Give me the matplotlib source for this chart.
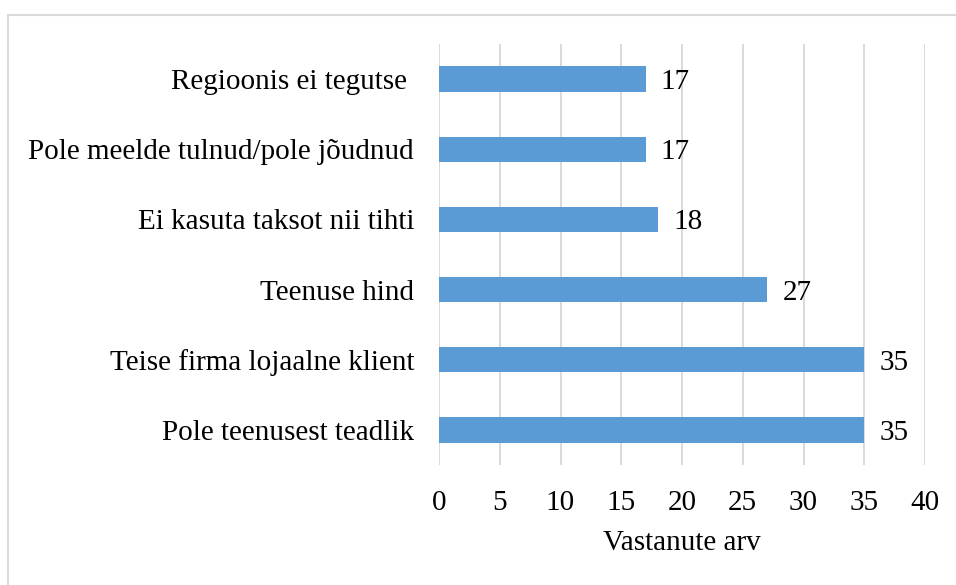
import matplotlib
matplotlib.use("Agg")
import matplotlib.pyplot as plt
from matplotlib.patches import Rectangle

categories = [
    "Regioonis ei tegutse ",
    "Pole meelde tulnud/pole jõudnud",
    "Ei kasuta taksot nii tihti",
    "Teenuse hind",
    "Teise firma lojaalne klient",
    "Pole teenusest teadlik",
]
values = [17, 17, 18, 27, 35, 35]
x_ticks = [0, 5, 10, 15, 20, 25, 30, 35, 40]
x_label = "Vastanute arv"

plt.rcParams['font.family'] = ['Liberation Serif', 'DejaVu Serif']
FS = 21

fig = plt.figure(figsize=(9.56, 5.85), dpi=100)
fig.patches.append(Rectangle((8/956, -0.05), 1.1, 1 - 15/585 + 0.05,
                             transform=fig.transFigure, fill=False,
                             edgecolor='#D9D9D9', linewidth=1.5, zorder=0))

ax = fig.add_axes([439/956, 1 - 465/585, 486/956, 421/585])
ypos = list(range(len(categories)))
ax.barh(ypos, values, height=0.36, color='#5B9BD5', zorder=3)
ax.set_ylim(len(categories) - 0.5, -0.5)
ax.set_xlim(0, 40)
ax.set_xticks(x_ticks)
ax.set_xticklabels([str(t) for t in x_ticks])
ax.set_yticks(ypos)
ax.set_yticklabels(categories)
ax.tick_params(axis='both', length=0, labelsize=FS, colors='black')
ax.tick_params(axis='x', pad=18)
ax.tick_params(axis='y', pad=18)
ax.grid(axis='x', color='#D9D9D9', linewidth=1.4, zorder=0)
ax.set_axisbelow(True)
for s in ax.spines.values():
    s.set_visible(False)

for y, v in zip(ypos, values):
    ax.annotate(str(v), xy=(v, y), xytext=(11, 0), textcoords='offset points',
                ha='left', va='center_baseline', fontsize=FS, color='black')

ax.set_xlabel(x_label, fontsize=FS, labelpad=10)

fig.savefig("out.png", dpi=100)
